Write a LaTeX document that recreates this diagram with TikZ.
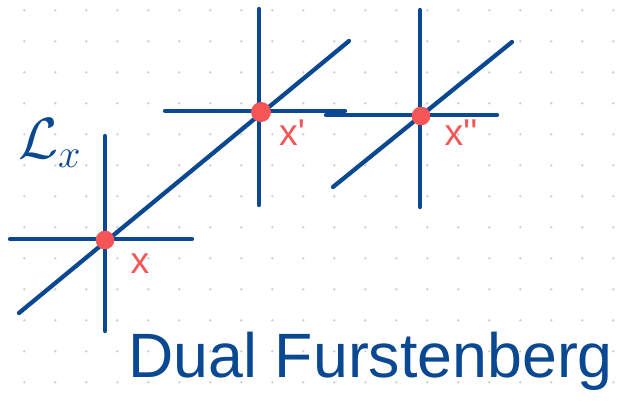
\documentclass[tikz,border=0pt]{standalone}
\usepackage{fontspec}
\setmainfont{Liberation Sans}
\usepackage{tikz}
\usetikzlibrary{positioning}
\definecolor{penblue}{RGB}{11,72,146}
\definecolor{penred}{RGB}{245,85,85}
\definecolor{griddot}{RGB}{205,205,205}

\begin{document}
\begin{tikzpicture}[x=0.75pt, y=-0.75pt,
    stroke/.style={penblue, line width=3.2pt, line cap=round},
    point/.style={circle, fill=penred, inner sep=0pt, minimum size=14pt},
    ptlabel/.style={penred, font=\fontsize{28}{30}\selectfont}]
    \useasboundingbox (0,0) rectangle (618,404);

    % Dotted paper
    \foreach \i in {0,...,19}
        \foreach \j in {0,...,12}
            \fill[griddot] (24.3+31*\i, 10.3+31*\j) circle (1.3);

    % Points on the line
    \coordinate (x) at (105,240);
    \coordinate (x1) at (261,112);
    \coordinate (x2) at (421,116);

    % Diagonal line through x and x'
    \coordinate (diagA) at (19,313);
    \coordinate (diagB) at (349,41);
    \draw[stroke] (diagA) -- (diagB);

    % Cross at x
    \coordinate (xT) at (105,136);
    \coordinate (xB) at (105,331);
    \coordinate (xL) at (10,239);
    \coordinate (xR) at (192,239);
    \draw[stroke] (xT) -- (xB);
    \draw[stroke] (xL) -- (xR);

    % Cross at x'
    \coordinate (x1T) at (259,9);
    \coordinate (x1B) at (259,205);
    \coordinate (x1L) at (165,111);
    \coordinate (x1R) at (345,111);
    \draw[stroke] (x1T) -- (x1B);
    \draw[stroke] (x1L) -- (x1R);

    % Cross at x''
    \coordinate (x2T) at (420,10);
    \coordinate (x2B) at (420,207);
    \coordinate (x2L) at (326,115);
    \coordinate (x2R) at (497,115);
    \coordinate (x2A) at (333,187);
    \coordinate (x2C) at (512,42);
    \draw[stroke] (x2T) -- (x2B);
    \draw[stroke] (x2L) -- (x2R);
    \draw[stroke] (x2A) -- (x2C);

    % Red points
    \node[point] (px) at (x) {};
    \node[point, minimum size=15pt] (px1) at (x1) {};
    \node[point] (px2) at (x2) {};

    % Labels
    \node[ptlabel] (lx) at (140,264) {x};
    \node[ptlabel] (lx1) at (292,133) {x\textquotesingle};
    \node[ptlabel] (lx2) at (461,133) {x\textquotesingle\textquotesingle};
    \node[penblue, font=\fontsize{24}{28}\selectfont] (fam) at (50,143)
        {\scalebox{1.75}{$\mathcal{L}_x$}};

    % Title
    \node[penblue, anchor=base west, font=\fontsize{47}{56}\selectfont]
        (title) at (124,377) {Dual Furstenberg};
\end{tikzpicture}
\end{document}
